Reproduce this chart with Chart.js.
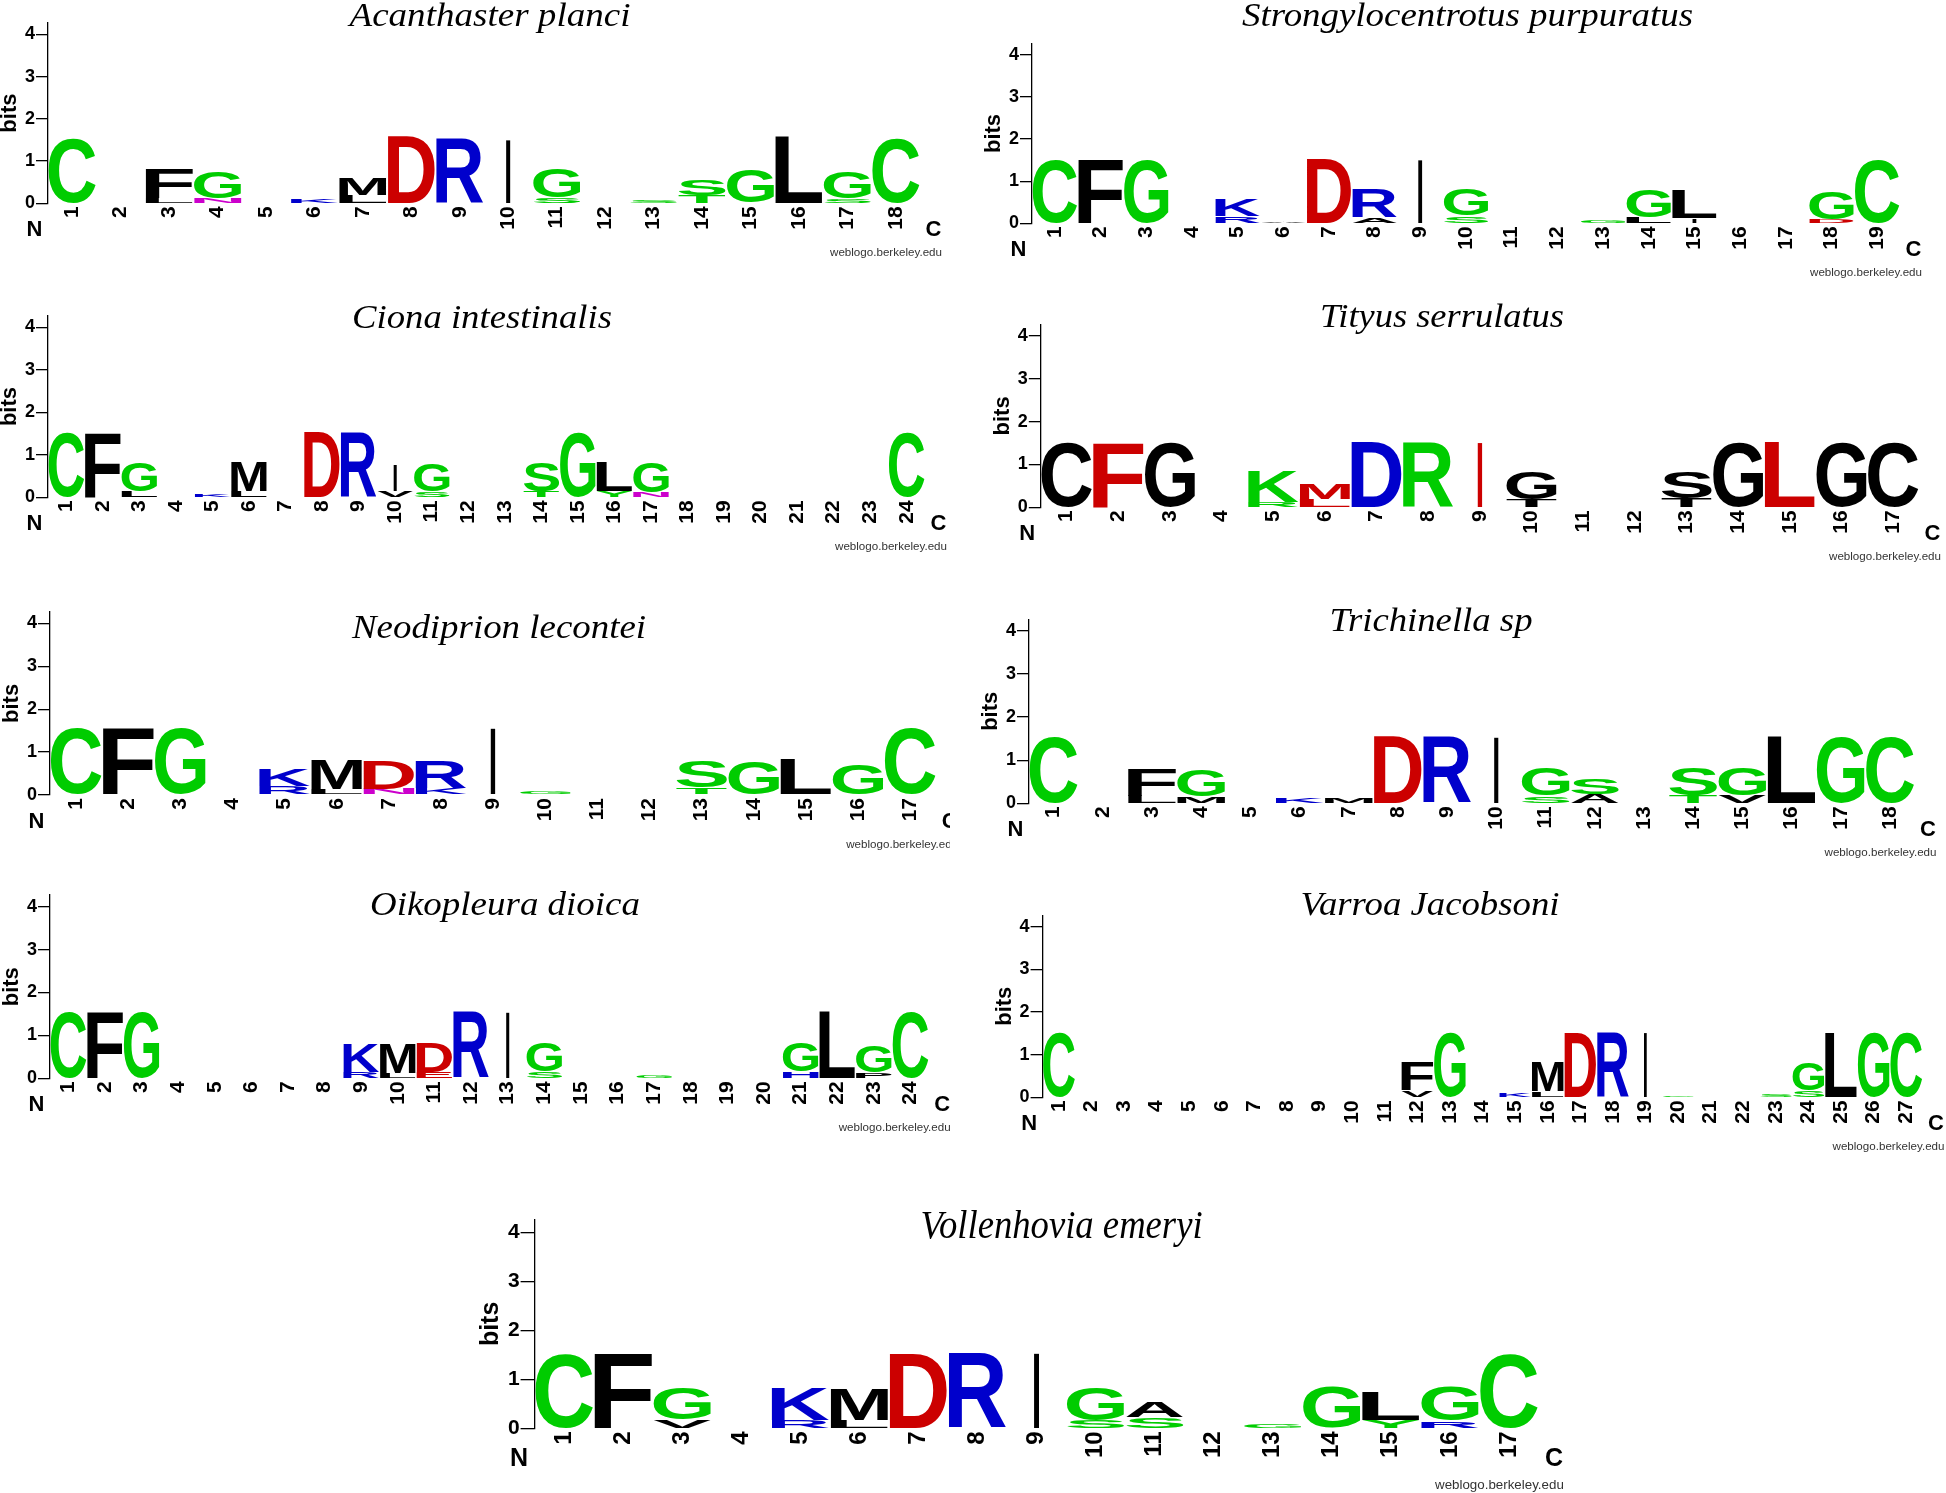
<!DOCTYPE html>
<html>
<head>
<meta charset="utf-8">
<script src="https://cdn.jsdelivr.net/npm/chart.js@4.4.1/dist/chart.umd.min.js"></script>
<style>
  html, body { margin: 0; padding: 0; background: #fff; }
  #wrap { position: relative; width: 1946px; height: 1493px; overflow: hidden; }
  #wrap canvas { position: absolute; left: 0; top: 0; }
</style>
</head>
<body>
<div id="wrap"></div>
<script>
// each position: letters from bottom to top, with their heights in bits
const planciLetters = ["C","","LF","NG","","K","LM","D","R","I","SG","","S","TS","G","L","SG","C"];
const planciBits = [[1.54],[],[0.12,0.7],[0.12,0.63],[],[0.1],[0.2,0.38],[1.58],[1.54],[1.52],[0.14,0.68],[],[0.08],[0.2,0.38],[0.79],[1.58],[0.12,0.63],[1.54]];

const purpuratusLetters = ["C","F","G","","RK","A","D","AR","I","SG","","","G","LG","IL","","","DG","C"];
const purpuratusBits = [[1.52],[1.52],[1.52],[],[0.18,0.38],[0.04],[1.52],[0.14,0.66],[1.52],[0.18,0.62],[],[],[0.06],[0.15,0.65],[0.12,0.68],[],[],[0.1,0.64],[1.52]];

const cionaLetters = ["C","F","LG","","K","LM","","D","R","VI","SG","","","TS","G","YL","NG","","","","","","","C"];
const cionaBits = [[1.54],[1.54],[0.15,0.69],[],[0.08],[0.15,0.69],[],[1.54],[1.54],[0.16,0.6],[0.15,0.66],[],[],[0.15,0.68],[1.54],[0.15,0.68],[0.12,0.72],[],[],[],[],[],[],[1.54]];

const tityusLetters = ["C","F","G","","RK","LM","D","R","I","TG","","","TS","G","L","G","C"];
const tityusBits = [[1.53],[1.53],[1.53],[],[0.12,0.71],[0.2,0.36],[1.53],[1.53],[1.53],[0.18,0.65],[],[],[0.22,0.62],[1.53],[1.53],[1.53],[1.53]];

const lecconteiLetters = ["C","F","G","","RK","LM","ND","KR","I","G","","","TS","G","L","G","C"];
const lecconteiBits = [[1.55],[1.55],[1.55],[],[0.2,0.38],[0.14,0.68],[0.15,0.64],[0.15,0.64],[1.55],[0.07],[],[],[0.17,0.62],[0.79],[0.82],[0.72],[1.55]];

const trichinellaLetters = ["C","","LF","MG","","K","M","D","R","I","SG","AS","","TS","VG","L","G","C"];
const trichinellaBits = [[1.55],[],[0.18,0.63],[0.17,0.6],[],[0.12],[0.12],[1.55],[1.55],[1.55],[0.18,0.63],[0.22,0.36],[],[0.18,0.63],[0.18,0.63],[1.55],[1.55],[1.55]];

const dioicaLetters = ["C","F","G","","","","","","RK","LM","ED","R","I","SG","","","G","","","","HG","L","PG","C"];
const dioicaBits = [[1.55],[1.55],[1.55],[],[],[],[],[],[0.15,0.67],[0.12,0.7],[0.15,0.67],[1.55],[1.55],[0.15,0.67],[],[],[0.07],[],[],[],[0.15,0.67],[1.55],[0.13,0.62],[1.55]];

const varroaLetters = ["C","","","","","","","","","","","VF","G","","K","LM","D","R","I","G","","","S","SG","L","G","C"];
const varroaBits = [[1.52],[],[],[],[],[],[],[],[],[],[],[0.17,0.66],[1.52],[],[0.1],[0.14,0.69],[1.52],[1.52],[1.52],[0.03],[],[],[0.08],[0.17,0.63],[1.52],[1.52],[1.52]];

const emeryiLetters = ["C","F","VG","","RK","LM","D","R","I","SG","SA","","G","G","YL","RG","C"];
const emeryiBits = [[1.53],[1.53],[0.18,0.65],[],[0.17,0.66],[0.17,0.63],[1.53],[1.53],[1.53],[0.17,0.66],[0.22,0.32],[],[0.09],[0.84],[0.17,0.58],[0.15,0.69],[1.53]];

const yTicks = [0, 1, 2, 3, 4];
const yMax = 4.27;

const W = 1946, H = 1493;
const GREEN = '#00cc00', BLUE = '#0000cc', RED = '#cc0000', PURPLE = '#cc00cc', BLACK = '#000000';
const defaultColors = { G: GREEN, S: GREEN, T: GREEN, Y: GREEN, C: GREEN, N: PURPLE, Q: PURPLE, K: BLUE, R: BLUE, H: BLUE, D: RED, E: RED };
const tityusColors = { C: BLACK, G: BLACK, S: BLACK, T: BLACK, A: BLACK, F: RED, M: RED, L: RED, I: RED, K: GREEN, R: GREEN, D: BLUE };

const SANS = '"Liberation Sans", Arial, sans-serif';
const SERIF = '"Liberation Serif", "Times New Roman", serif';

// layout of each panel on the page
const panels = [
  { title: 'Acanthaster planci', letters: planciLetters, bits: planciBits, colors: defaultColors,
    left: 48, right: 920, y0: 203.3, ppb: 42.25, tx: 490, ty: 26, tw: 281, f: 1 },
  { title: 'Strongylocentrotus purpuratus', letters: purpuratusLetters, bits: purpuratusBits, colors: defaultColors,
    left: 1032, right: 1900, y0: 223.3, ppb: 42.08, tx: 1467.5, ty: 26, tw: 451, f: 1 },
  { title: 'Ciona intestinalis', letters: cionaLetters, bits: cionaBits, colors: defaultColors,
    left: 48, right: 925, y0: 497.3, ppb: 42.5, tx: 482, ty: 328.3, tw: 260, f: 1 },
  { title: 'Tityus serrulatus', letters: tityusLetters, bits: tityusBits, colors: tityusColors,
    left: 1040.8, right: 1919, y0: 507.3, ppb: 42.8, tx: 1442, ty: 326.7, tw: 244, f: 1 },
  { title: 'Neodiprion lecontei', letters: lecconteiLetters, bits: lecconteiBits, colors: defaultColors,
    left: 50, right: 936.2, y0: 795, ppb: 42.9, tx: 499, ty: 638.3, tw: 294, f: 1, clip: 950 },
  { title: 'Trichinella sp', letters: trichinellaLetters, bits: trichinellaBits, colors: defaultColors,
    left: 1029, right: 1914.5, y0: 803.3, ppb: 43.1, tx: 1431, ty: 630.7, tw: 203, f: 1 },
  { title: 'Oikopleura dioica', letters: dioicaLetters, bits: dioicaBits, colors: defaultColors,
    left: 50, right: 928.7, y0: 1078.3, ppb: 42.9, tx: 505, ty: 915, tw: 270, f: 1 },
  { title: 'Varroa Jacobsoni', letters: varroaLetters, bits: varroaBits, colors: defaultColors,
    left: 1042.6, right: 1922.5, y0: 1097.3, ppb: 42.65, tx: 1430, ty: 915, tw: 259, f: 1 },
  { title: 'Vollenhovia emeryi', letters: emeryiLetters, bits: emeryiBits, colors: defaultColors,
    left: 534.6, right: 1538.5, y0: 1428.3, ppb: 48.9, tx: 1061.6, ty: 1237.7, tw: 282, f: 1.15 },
];

// ink box of a glyph, so it can be stretched to fill its stack cell
const glyphCache = {};
function glyphBox(ch) {
  if (!glyphCache[ch]) {
    const c = document.createElement('canvas').getContext('2d');
    c.font = 'bold 200px ' + SANS;
    const m = c.measureText(ch);
    glyphCache[ch] = { l: m.actualBoundingBoxLeft, r: m.actualBoundingBoxRight, a: m.actualBoundingBoxAscent, d: m.actualBoundingBoxDescent };
  }
  return glyphCache[ch];
}

function drawLetter(ctx, ch, color, x0, x1, y0, y1) {
  const g = glyphBox(ch);
  const gw = g.l + g.r, gh = g.a + g.d;
  if (y1 - y0 < 0.5) return;
  ctx.save();
  ctx.translate(x0, y0);
  ctx.scale((x1 - x0) / gw, (y1 - y0) / gh);
  ctx.font = 'bold 200px ' + SANS;
  ctx.fillStyle = color;
  ctx.textAlign = 'left';
  ctx.textBaseline = 'alphabetic';
  ctx.fillText(ch, g.l, g.a);
  ctx.restore();
}

// text squeezed or stretched to a given width
function fitText(ctx, text, x, y, width) {
  const mw = ctx.measureText(text).width;
  ctx.save();
  ctx.translate(x, y);
  ctx.scale(width / mw, 1);
  ctx.fillText(text, 0, 0);
  ctx.restore();
}

function logoPlugin(p) {
  return {
    id: 'logo',
    afterDatasetsDraw(chart) {
      const ctx = chart.ctx;
      chart.data.datasets.forEach((ds, k) => {
        const meta = chart.getDatasetMeta(k);
        meta.data.forEach((bar, i) => {
          const v = ds.data[i];
          if (!v) return;
          const ch = p.letters[i][k];
          const { x, y, base, width } = bar.getProps(['x', 'y', 'base', 'width'], true);
          // I stays a thin bar, every other letter fills the column
          const w = ch === 'I' ? width * 0.09 : width;
          drawLetter(ctx, ch, p.colors[ch] || BLACK, x - w / 2, x + w / 2, y, base);
        });
      });
    },
    afterDraw(chart) {
      const ctx = chart.ctx;
      const f = p.f;
      const area = chart.chartArea;
      ctx.save();
      if (p.clip) {
        ctx.beginPath();
        ctx.rect(0, 0, p.clip, H);
        ctx.clip();
      }
      ctx.fillStyle = '#000';
      // title
      ctx.font = 'italic ' + Math.round(34 * f) + 'px ' + SERIF;
      ctx.textBaseline = 'alphabetic';
      ctx.textAlign = 'center';
      fitText(ctx, p.title, p.tx, p.ty, p.tw);
      // axis title
      ctx.save();
      ctx.translate(area.left - 38 * f, (area.top + area.bottom) / 2);
      ctx.rotate(-Math.PI / 2);
      ctx.font = 'bold ' + Math.round(22 * f) + 'px ' + SANS;
      ctx.textBaseline = 'middle';
      ctx.fillText('bits', 0, 0);
      ctx.restore();
      // N / C ends
      ctx.font = 'bold ' + Math.round(22 * f) + 'px ' + SANS;
      ctx.textBaseline = 'middle';
      ctx.fillText('N', area.left - 13.5 * f, area.bottom + 26.5 * f);
      ctx.fillText('C', area.right + 13.5 * f, area.bottom + 26.5 * f);
      // credit
      ctx.font = Math.round(11 * f) + 'px ' + SANS;
      ctx.fillStyle = '#333';
      const cw = 112 * f;
      fitText(ctx, 'weblogo.berkeley.edu', area.right + 22 * f - cw / 2, area.bottom + 50 * f, cw);
      ctx.restore();
    }
  };
}

const wrap = document.getElementById('wrap');
const yW = 45, xH = 40;

panels.forEach(p => {
  const canvas = document.createElement('canvas');
  canvas.width = W;
  canvas.height = H;
  wrap.appendChild(canvas);
  const f = p.f;
  const labels = p.letters.map((_, i) => String(i + 1));
  const levels = Math.max(...p.bits.map(b => b.length));
  const datasets = [];
  for (let k = 0; k < levels; k++) {
    datasets.push({
      label: 'level ' + k,
      data: p.bits.map(b => b[k] || 0),
      backgroundColor: 'rgba(0,0,0,0)',
      borderWidth: 0,
      barPercentage: 0.97,
      categoryPercentage: 1,
    });
  }
  const top = p.y0 - yMax * p.ppb;
  new Chart(canvas.getContext('2d'), {
    type: 'bar',
    data: { labels, datasets },
    options: {
      responsive: false,
      animation: false,
      devicePixelRatio: 1,
      layout: { padding: { left: p.left - yW, right: W - p.right, top: top, bottom: H - p.y0 - xH } },
      plugins: { legend: { display: false }, tooltip: { enabled: false }, title: { display: false } },
      scales: {
        x: {
          stacked: true,
          grid: { display: false, drawTicks: false },
          border: { display: false },
          ticks: {
            autoSkip: false, minRotation: 90, maxRotation: 90, padding: 3,
            color: '#000', font: { family: SANS, size: Math.round(21 * f), weight: 'bold' }
          },
          afterFit(scale) { scale.height = xH; }
        },
        y: {
          stacked: true,
          min: 0, max: yMax,
          afterBuildTicks(scale) { scale.ticks = yTicks.map(v => ({ value: v })); },
          grid: { drawOnChartArea: false, drawTicks: true, tickLength: Math.round(12 * f), color: '#000', lineWidth: 1.3 },
          border: { display: true, color: '#000', width: 1.3 },
          ticks: { padding: 1, color: '#000', font: { family: SANS, size: Math.round(18 * f), weight: 'bold' } },
          afterFit(scale) { scale.width = yW; }
        }
      }
    },
    plugins: [logoPlugin(p)]
  });
});
</script>
</body>
</html>
